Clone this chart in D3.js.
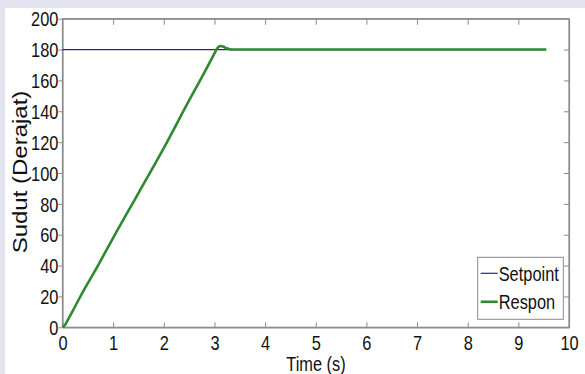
<!DOCTYPE html>
<html>
<head>
<meta charset="utf-8">
<script src="https://cdn.jsdelivr.net/npm/d3@7"></script>
<style>
  body { margin: 0; background: #e2e3ee; }
  svg { display: block; }
</style>
</head>
<body>
<div id="chart"></div>
<script>
// data
const timeTicks = [0, 1, 2, 3, 4, 5, 6, 7, 8, 9, 10];
const angleTicks = [0, 20, 40, 60, 80, 100, 120, 140, 160, 180, 200];
const setpointT = [0, 9.55];
const setpointV = [180, 180];
const responT = [0, 0.05, 0.1, 0.2, 0.35, 0.7, 1.0, 1.5, 1.98, 2.5, 2.8, 3.0, 3.04, 3.08, 3.12, 3.18, 3.24, 3.3, 3.4, 9.55];
const responV = [0, 1.5, 4.5, 10.5, 19.8, 40, 58, 87, 115, 147, 165, 177.5, 180, 181.6, 182.3, 181.8, 180.8, 180.2, 180, 180];
const legendLabels = ["Setpoint", "Respon"];
const colors = ["#262680", "#2f8a2f"];

const W = 585, H = 374;
const margin = { top: 18.7, right: 16, bottom: 46.7, left: 62.5 };
const width = W - margin.left - margin.right;
const height = H - margin.top - margin.bottom;
const font = "'Liberation Sans', Arial, sans-serif";
const narrow = "scale(0.82,1)"; // the figure uses a narrow face

const svg = d3.select("#chart")
    .append("svg")
    .attr("width", W)
    .attr("height", H);

// white figure area over the faint page background
svg.append("rect")
    .attr("x", 5).attr("y", 8)
    .attr("width", W - 5).attr("height", H - 8)
    .attr("fill", "#fff");

const g = svg.append("g")
    .attr("transform", `translate(${margin.left},${margin.top})`);

const x = d3.scaleLinear().domain([0, 10]).range([0, width]);
const y = d3.scaleLinear().domain([0, 200]).range([height, 0]);

// frame
g.append("rect")
    .attr("width", width).attr("height", height)
    .attr("fill", "none")
    .attr("stroke", "#8a8a8a")
    .attr("stroke-width", 1.2);

// bottom axis, ticks pointing inward
const xAxis = g.append("g")
    .attr("transform", `translate(0,${height})`)
    .call(d3.axisBottom(x).tickValues(timeTicks).tickSizeInner(-5).tickSizeOuter(0));
// top ticks
g.append("g")
    .call(d3.axisTop(x).tickValues(timeTicks.slice(1, -1)).tickSizeInner(-6).tickSizeOuter(0).tickFormat(""));
// left axis
const yAxis = g.append("g")
    .call(d3.axisLeft(y).tickValues(angleTicks).tickSizeInner(4).tickSizeOuter(0).tickPadding(1));
// right ticks
g.append("g")
    .attr("transform", `translate(${width},0)`)
    .call(d3.axisRight(y).tickValues(angleTicks.slice(1, -1)).tickSizeInner(-5).tickSizeOuter(0).tickFormat(""));

g.selectAll(".domain").attr("stroke", "#8a8a8a").attr("stroke-width", 1.2);
g.selectAll(".tick line").attr("stroke", "#8a8a8a");
g.selectAll(".tick text")
    .attr("fill", "#111")
    .attr("transform", narrow)
    .style("font-family", font)
    .style("font-size", "20px");
xAxis.selectAll(".tick text").attr("dy", null).attr("y", 22.5);
yAxis.selectAll(".tick text").attr("dy", "0.36em");

// lines
const line = d3.line().x(d => x(d[0])).y(d => y(d[1]));

g.append("path")
    .datum(setpointT.map((t, i) => [t, setpointV[i]]))
    .attr("d", line)
    .attr("fill", "none")
    .attr("stroke", colors[0])
    .attr("stroke-width", 1.2);

g.append("path")
    .datum(responT.map((t, i) => [t, responV[i]]))
    .attr("d", line.curve(d3.curveMonotoneX))
    .attr("fill", "none")
    .attr("stroke", colors[1])
    .attr("stroke-width", 2.6)
    .attr("stroke-linejoin", "round");

// axis titles
svg.append("text")
    .attr("transform", `translate(316,370.5) ${narrow}`)
    .attr("text-anchor", "middle")
    .style("font-family", font)
    .style("font-size", "20px")
    .attr("fill", "#111")
    .text("Time (s)");

svg.append("text")
    .attr("transform", "translate(27,172) rotate(-90) scale(1.2,1)")
    .attr("text-anchor", "middle")
    .style("font-family", font)
    .style("font-size", "20px")
    .attr("fill", "#111")
    .text("Sudut (Derajat)");

// legend
const legend = svg.append("g").attr("transform", "translate(477.7,257.3)");
legend.append("rect")
    .attr("width", 85.6).attr("height", 62)
    .attr("fill", "#fff")
    .attr("stroke", "#8a8a8a")
    .attr("stroke-width", 1);

legendLabels.forEach((label, i) => {
    const ly = 16 + i * 28.5;
    legend.append("line")
        .attr("x1", 3).attr("x2", 20)
        .attr("y1", ly).attr("y2", ly)
        .attr("stroke", colors[i])
        .attr("stroke-width", i === 0 ? 1.2 : 2.6);
    legend.append("text")
        .attr("transform", `translate(21,${ly}) ${narrow}`)
        .attr("dy", "0.36em")
        .style("font-family", font)
        .style("font-size", "20px")
        .attr("fill", "#111")
        .text(label);
});
</script>
</body>
</html>
